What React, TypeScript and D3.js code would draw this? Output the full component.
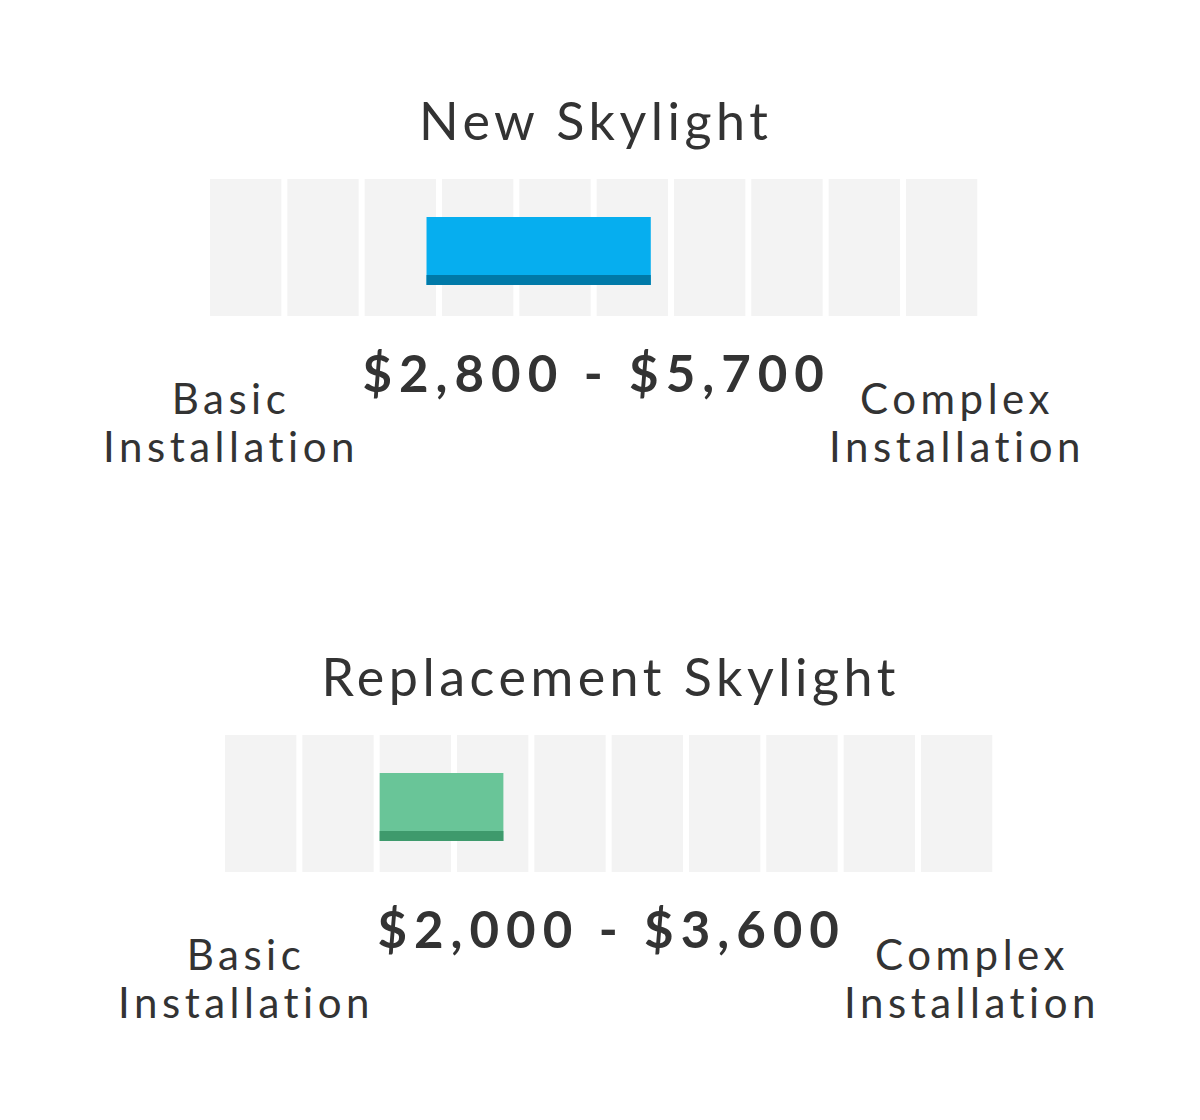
import * as d3 from "d3";

// chart content
const panelTitles = ["New Skylight", "Replacement Skylight"];
const lowCosts = [2800, 2000];
const highCosts = [5700, 3600];
const cellStarts = [0, 1000, 2000, 3000, 4000, 5000, 6000, 7000, 8000, 9000];
const barColors = ["#06aeef", "#69c598"];
const barShadeColors = ["#0079a8", "#3e9a6c"];
const leftLabel = ["Basic", "Installation"];
const rightLabel = ["Complex", "Installation"];

const W = 1200;
const H = 1120;
const FONT = "Lato, 'Open Sans', sans-serif";
const TEXT = "#333333";

const fmt = d3.format("$,.0f");

const Panel = ({ i }: { i: number }) => {
  const x0 = 210 + i * 15;
  const y0 = 179 + i * 556;
  const step = 77.33;
  const x = d3.scaleLinear().domain([0, 10000]).range([x0, x0 + step * 10]);
  const cellH = 137;
  const barTop = y0 + 38;
  const barH = 68;
  const shadeH = 10;
  const center = x0 + (step * 10 - 6) / 2;
  const lo = x(lowCosts[i]);
  const hi = x(highCosts[i]);

  return (
    <g>
      <text
        x={center + 2}
        y={y0 - 39}
        textAnchor="middle"
        fontSize={52}
        letterSpacing={4.5}
        fill={TEXT}
        fontFamily={FONT}
      >
        {panelTitles[i]}
      </text>
      {cellStarts.map((c) => (
        <rect key={c} x={x(c)} y={y0} width={step - 6} height={cellH} fill="#f3f3f3" />
      ))}
      <rect x={lo} y={barTop} width={hi - lo} height={barH} fill={barColors[i]} />
      <rect
        x={lo}
        y={barTop + barH - shadeH}
        width={hi - lo}
        height={shadeH}
        fill={barShadeColors[i]}
      />
      <text
        x={center + 3}
        y={y0 + 213}
        textAnchor="middle"
        fontSize={51}
        fontWeight={700}
        letterSpacing={7}
        fill={TEXT}
        fontFamily={FONT}
      >
        {`${fmt(lowCosts[i])} - ${fmt(highCosts[i])}`}
      </text>
      {leftLabel.map((t, k) => (
        <text
          key={"l" + k}
          x={x0 + 21}
          y={y0 + 235 + k * 48}
          textAnchor="middle"
          fontSize={42}
          letterSpacing={4.5}
          fill={TEXT}
          fontFamily={FONT}
        >
          {t}
        </text>
      ))}
      {rightLabel.map((t, k) => (
        <text
          key={"r" + k}
          x={x0 + 747}
          y={y0 + 235 + k * 48}
          textAnchor="middle"
          fontSize={42}
          letterSpacing={4.5}
          fill={TEXT}
          fontFamily={FONT}
        >
          {t}
        </text>
      ))}
    </g>
  );
};

export default function App() {
  return (
    <svg
      width={W}
      height={H}
      style={{ position: "absolute", left: 0, top: 0, background: "#fff" }}
    >
      <rect width={W} height={H} fill="#fff" />
      {panelTitles.map((_, i) => (
        <Panel key={i} i={i} />
      ))}
    </svg>
  );
}
